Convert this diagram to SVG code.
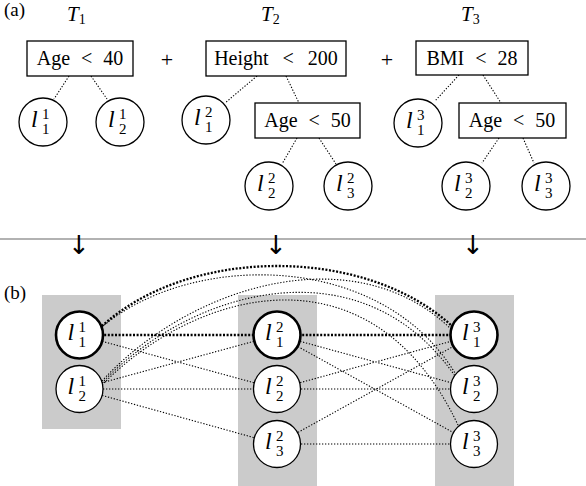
<svg xmlns="http://www.w3.org/2000/svg" width="586" height="486" viewBox="0 0 586 486">
<style>
.box{fill:#fff;stroke:#000;stroke-width:1.3}
.leaf{fill:#fff;stroke:#000;stroke-width:1.3}
.leafb{fill:#fff;stroke:#000;stroke-width:2.6}
.dot{fill:none;stroke:#000;stroke-width:1.1;stroke-dasharray:1.3 1.7}
.dotb{fill:none;stroke:#000;stroke-width:2.3;stroke-dasharray:2 1.6}
.bt{font-size:20px;text-anchor:middle;word-spacing:6px}
.li{font-size:24px;font-style:italic}
.sc{font-size:15px;font-style:normal}
.col{fill:#cbcbcb}
.arr{font-size:26px;text-anchor:middle}
</style>
<text font-family="Liberation Serif" x="4" y="16" font-size="19">(a)</text>
<text font-family="Liberation Serif" x="4" y="299" font-size="19">(b)</text>
<g id="titles">
<text font-family="Liberation Serif" x="67" y="21" font-size="21" font-style="italic">T<tspan font-size="14" font-style="normal" dy="3">1</tspan></text>
<text font-family="Liberation Serif" x="261" y="21" font-size="21" font-style="italic">T<tspan font-size="14" font-style="normal" dy="3">2</tspan></text>
<text font-family="Liberation Serif" x="461" y="21" font-size="21" font-style="italic">T<tspan font-size="14" font-style="normal" dy="3">3</tspan></text>
<text font-family="Liberation Serif" x="167" y="67" font-size="22" text-anchor="middle">+</text>
<text font-family="Liberation Serif" x="387" y="67" font-size="22" text-anchor="middle">+</text>
</g>
<g id="tree-connectors">
<path class="dot" d="M69,76L54,99M91,76L107,99M257,76L225,103M286,76L299,103M297,138L282,164M319,138L336,164M459,75L435,101M483,75L501,103M499,138L482,163M523,138L534,163"/>
</g>
<g id="t1-root"><rect class="box" x="27" y="41" width="106" height="35"/><text font-family="Liberation Serif" class="bt" x="80" y="65">Age &lt; 40</text></g>
<g id="t2-root"><rect class="box" x="206" y="41" width="140" height="35"/><text font-family="Liberation Serif" class="bt" x="276" y="65" style="word-spacing:9px">Height &lt; 200</text></g>
<g id="t2-split"><rect class="box" x="255" y="103" width="105" height="35"/><text font-family="Liberation Serif" class="bt" x="307.5" y="127">Age &lt; 50</text></g>
<g id="t3-root"><rect class="box" x="416" y="41" width="112" height="34"/><text font-family="Liberation Serif" class="bt" x="472" y="65">BMI &lt; 28</text></g>
<g id="t3-split"><rect class="box" x="459" y="103" width="107" height="35"/><text font-family="Liberation Serif" class="bt" x="512" y="127">Age &lt; 50</text></g>
<g id="a-l11"><circle class="leaf" cx="43" cy="122" r="24"/><text font-family="Liberation Serif" class="li" x="31" y="127">l<tspan class="sc" x="42" y="119">1</tspan><tspan class="sc" x="42" y="134">1</tspan></text></g>
<g id="a-l21"><circle class="leaf" cx="120" cy="122" r="24"/><text font-family="Liberation Serif" class="li" x="108" y="127">l<tspan class="sc" x="119" y="119">1</tspan><tspan class="sc" x="119" y="134">2</tspan></text></g>
<g id="a-l12"><circle class="leaf" cx="206" cy="120" r="24"/><text font-family="Liberation Serif" class="li" x="194" y="125">l<tspan class="sc" x="205" y="117">2</tspan><tspan class="sc" x="205" y="132">1</tspan></text></g>
<g id="a-l22"><circle class="leaf" cx="269" cy="186" r="24"/><text font-family="Liberation Serif" class="li" x="257" y="191">l<tspan class="sc" x="268" y="183">2</tspan><tspan class="sc" x="268" y="198">2</tspan></text></g>
<g id="a-l32"><circle class="leaf" cx="348" cy="186" r="24"/><text font-family="Liberation Serif" class="li" x="336" y="191">l<tspan class="sc" x="347" y="183">2</tspan><tspan class="sc" x="347" y="198">3</tspan></text></g>
<g id="a-l13"><circle class="leaf" cx="418" cy="123" r="24"/><text font-family="Liberation Serif" class="li" x="406" y="128">l<tspan class="sc" x="417" y="120">3</tspan><tspan class="sc" x="417" y="135">1</tspan></text></g>
<g id="a-l23"><circle class="leaf" cx="466" cy="186" r="24"/><text font-family="Liberation Serif" class="li" x="454" y="191">l<tspan class="sc" x="465" y="183">3</tspan><tspan class="sc" x="465" y="198">2</tspan></text></g>
<g id="a-l33"><circle class="leaf" cx="546" cy="186" r="24"/><text font-family="Liberation Serif" class="li" x="534" y="191">l<tspan class="sc" x="545" y="183">3</tspan><tspan class="sc" x="545" y="198">3</tspan></text></g>
<line x1="0" y1="239" x2="586" y2="239" stroke="#999" stroke-width="1.5"/>
<g id="arrows">
<text font-family="DejaVu Sans" class="arr" x="79" y="254">↓</text>
<text font-family="DejaVu Sans" class="arr" x="276" y="254">↓</text>
<text font-family="DejaVu Sans" class="arr" x="473" y="254">↓</text>
</g>
<g id="columns">
<rect class="col" x="42" y="295" width="79" height="134"/>
<rect class="col" x="238" y="295" width="79" height="191"/>
<rect class="col" x="435" y="295" width="79" height="191"/>
</g>
<g id="connectors">
<path class="dot" d="M79,335L277,389M79,389L277,335M79,389L277,389M79,389L277,444M277,335L474,389M277,335L474,444M277,389L474,335M277,389L474,389M277,444L474,335M277,444L474,444"/>
<path class="dot" d="M102,327C190,252 380,250 455,373"/>
<path class="dot" d="M102,381C190,285 355,235 452,330"/>
<path class="dot" d="M102,383C190,290 360,240 455,376"/>
<path class="dot" d="M102,385C195,290 370,240 458,425"/>
<path class="dotb" d="M79,335L277,335M277,335L474,335"/>
<path class="dotb" d="M102,326C190,246 365,246 452,326"/>
</g>
<g id="b-l11"><circle class="leafb" cx="79.5" cy="335" r="23.5"/><text font-family="Liberation Serif" class="li" x="67.5" y="340">l<tspan class="sc" x="78.5" y="332">1</tspan><tspan class="sc" x="78.5" y="347">1</tspan></text></g>
<g id="b-l21"><circle class="leaf" cx="79.5" cy="389" r="23.5"/><text font-family="Liberation Serif" class="li" x="67.5" y="394">l<tspan class="sc" x="78.5" y="386">1</tspan><tspan class="sc" x="78.5" y="401">2</tspan></text></g>
<g id="b-l12"><circle class="leafb" cx="277" cy="335" r="23.5"/><text font-family="Liberation Serif" class="li" x="265" y="340">l<tspan class="sc" x="276" y="332">2</tspan><tspan class="sc" x="276" y="347">1</tspan></text></g>
<g id="b-l22"><circle class="leaf" cx="277" cy="389" r="23.5"/><text font-family="Liberation Serif" class="li" x="265" y="394">l<tspan class="sc" x="276" y="386">2</tspan><tspan class="sc" x="276" y="401">2</tspan></text></g>
<g id="b-l32"><circle class="leaf" cx="277" cy="444" r="23.5"/><text font-family="Liberation Serif" class="li" x="265" y="449">l<tspan class="sc" x="276" y="441">2</tspan><tspan class="sc" x="276" y="456">3</tspan></text></g>
<g id="b-l13"><circle class="leafb" cx="474" cy="335" r="23.5"/><text font-family="Liberation Serif" class="li" x="462" y="340">l<tspan class="sc" x="473" y="332">3</tspan><tspan class="sc" x="473" y="347">1</tspan></text></g>
<g id="b-l23"><circle class="leaf" cx="474" cy="389" r="23.5"/><text font-family="Liberation Serif" class="li" x="462" y="394">l<tspan class="sc" x="473" y="386">3</tspan><tspan class="sc" x="473" y="401">2</tspan></text></g>
<g id="b-l33"><circle class="leaf" cx="474" cy="444" r="23.5"/><text font-family="Liberation Serif" class="li" x="462" y="449">l<tspan class="sc" x="473" y="441">3</tspan><tspan class="sc" x="473" y="456">3</tspan></text></g>
</svg>
